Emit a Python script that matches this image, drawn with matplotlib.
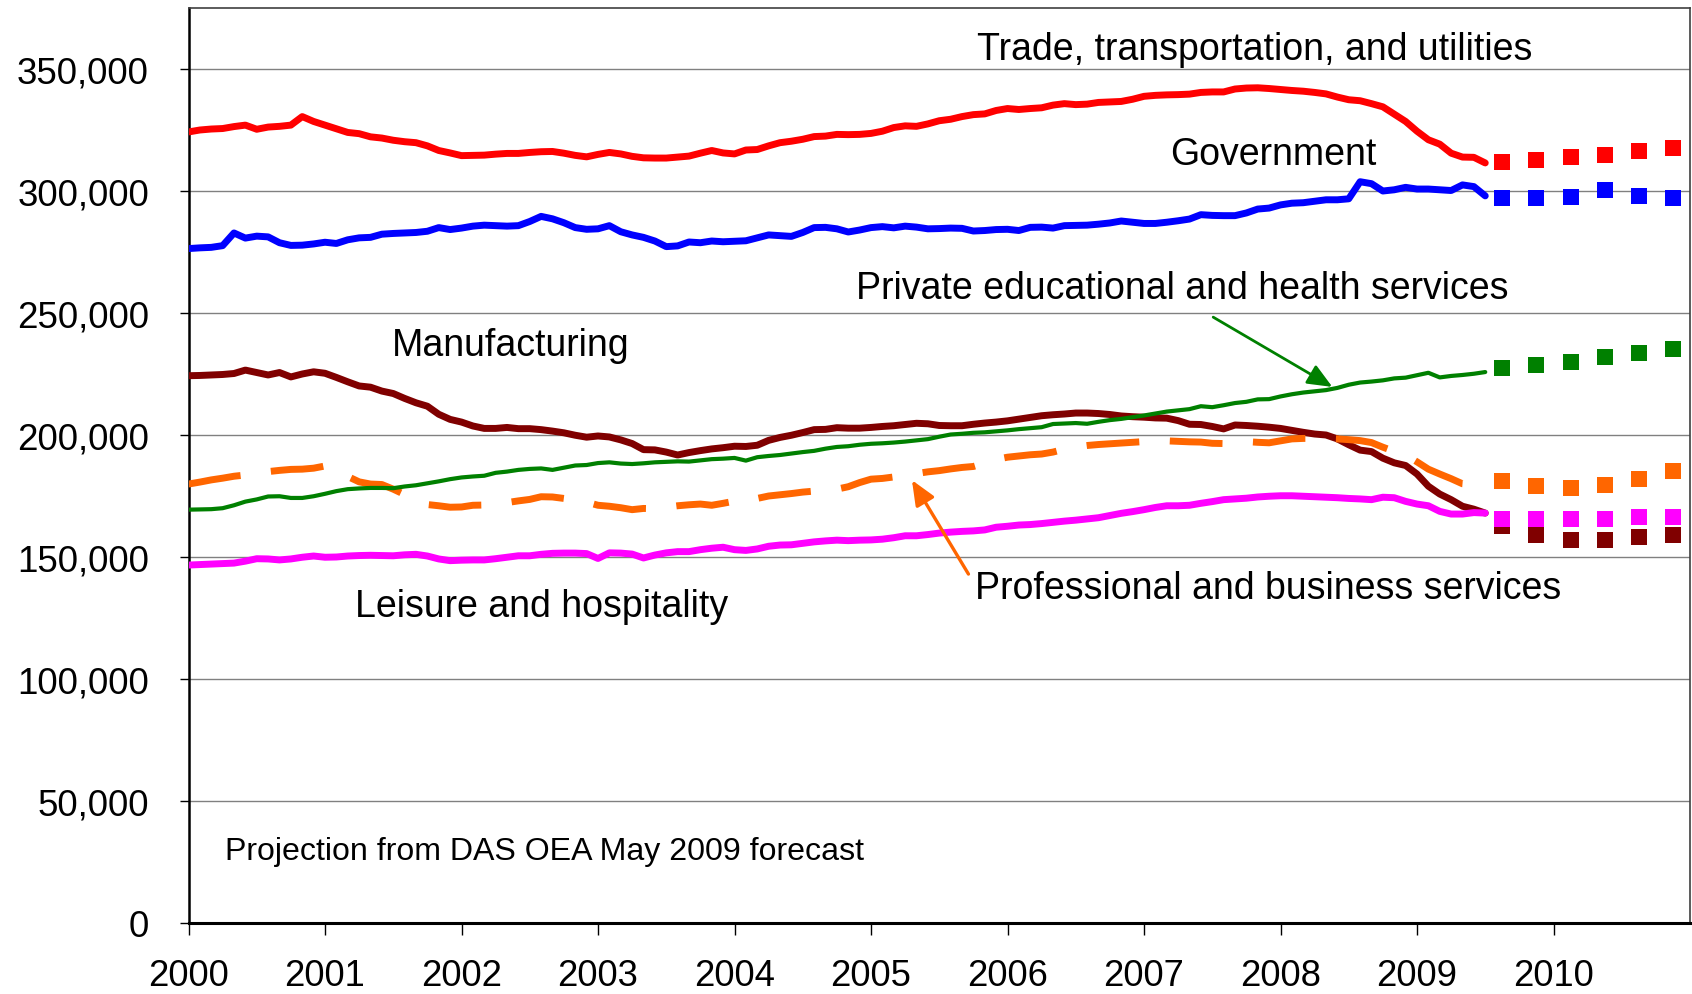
import numpy as np
import matplotlib
matplotlib.use("Agg")
import matplotlib.pyplot as plt
from matplotlib.ticker import FuncFormatter

plt.rcParams['font.family'] = ['Liberation Sans', 'DejaVu Sans']

# ---------------- data (thousands of jobs), monthly Jan 2000 - Jul 2009 ----------------
trade = [324.2, 325.0, 325.4, 325.6, 326.4, 327.0, 325.3, 326.2, 326.5, 327.0,
         330.5, 328.5, 327.0, 325.5, 324.0, 323.5, 322.2, 321.7, 320.8, 320.2,
         319.8, 318.5, 316.6, 315.6, 314.5, 314.6, 314.7, 315.1, 315.4, 315.4,
         315.8, 316.1, 316.2, 315.5, 314.6, 314.0, 315.0, 315.8, 315.2, 314.2,
         313.6, 313.5, 313.5, 313.9, 314.3, 315.5, 316.6, 315.6, 315.2, 316.8,
         317.0, 318.5, 319.8, 320.4, 321.2, 322.3, 322.5, 323.2, 323.1, 323.2,
         323.6, 324.5, 326.0, 326.7, 326.5, 327.5, 328.8, 329.4, 330.5, 331.3,
         331.6, 333.0, 333.8, 333.4, 333.8, 334.1, 335.2, 335.8, 335.4, 335.6,
         336.3, 336.5, 336.7, 337.6, 338.8, 339.2, 339.4, 339.5, 339.7, 340.4,
         340.6, 340.6, 341.8, 342.2, 342.3, 342.0, 341.6, 341.2, 340.9, 340.4,
         339.8, 338.5, 337.4, 337.0, 335.8, 334.5, 331.5, 328.5, 324.5, 321.0,
         319.2, 315.5, 313.9, 313.8, 311.5]

government = [276.4, 276.7, 276.9, 277.6, 282.8, 280.7, 281.5, 281.2, 278.8, 277.7,
              277.8, 278.3, 279.0, 278.5, 280.0, 280.8, 281.0, 282.3, 282.6, 282.8,
              283.0, 283.5, 285.0, 284.2, 284.8, 285.6, 286.0, 285.8, 285.6, 285.8,
              287.5, 289.6, 288.6, 287.0, 285.0, 284.3, 284.5, 285.8, 283.3, 282.0,
              281.0, 279.5, 277.2, 277.5, 279.1, 278.8, 279.5, 279.2, 279.4, 279.6,
              280.8, 282.0, 281.7, 281.4, 283.0, 285.0, 285.1, 284.5, 283.2, 284.0,
              285.0, 285.4, 284.9, 285.6, 285.2, 284.5, 284.6, 284.8, 284.7, 283.6,
              283.8, 284.2, 284.3, 283.8, 285.1, 285.2, 284.8, 285.8, 285.9, 286.0,
              286.4, 286.9, 287.7, 287.2, 286.7, 286.7, 287.2, 287.8, 288.5, 290.3,
              290.0, 289.9, 289.9, 291.0, 292.6, 293.0, 294.3, 295.0, 295.2, 295.8,
              296.4, 296.4, 296.8, 303.8, 303.0, 300.0, 300.5, 301.5, 300.8, 300.8,
              300.5, 300.2, 302.5, 301.8, 298.0]

manufacturing = [224.3, 224.4, 224.6, 224.8, 225.2, 226.6, 225.6, 224.6, 225.6, 223.8,
                 225.0, 225.9, 225.3, 223.6, 221.8, 220.1, 219.6, 218.0, 217.0, 215.0,
                 213.2, 211.8, 208.5, 206.4, 205.3, 203.7, 202.7, 202.7, 203.1, 202.6,
                 202.6, 202.2, 201.6, 200.9, 199.9, 199.1, 199.6, 199.2, 198.0, 196.5,
                 194.0, 193.9, 193.0, 191.8, 192.8, 193.6, 194.3, 194.8, 195.4, 195.3,
                 195.8, 197.8, 199.0, 199.9, 201.0, 202.2, 202.3, 203.0, 202.8, 202.8,
                 203.1, 203.5, 203.8, 204.3, 204.8, 204.6, 203.9, 203.8, 203.8, 204.4,
                 204.9, 205.3, 205.8, 206.5, 207.2, 207.9, 208.3, 208.6, 209.0, 209.0,
                 208.8, 208.4, 207.8, 207.5, 207.3, 207.0, 206.9, 205.9, 204.4, 204.3,
                 203.5, 202.5, 204.1, 203.9, 203.6, 203.2, 202.7, 201.9, 201.1, 200.4,
                 200.0, 198.4, 196.0, 193.8, 193.2, 190.5, 188.6, 187.5, 184.0, 179.0,
                 175.8, 173.5, 170.8, 169.6, 168.0]

education_health = [169.4, 169.5, 169.6, 170.0, 171.2, 172.7, 173.6, 174.8, 174.9, 174.2,
                    174.2, 174.9, 175.9, 177.0, 177.8, 178.1, 178.3, 178.3, 178.2, 178.9,
                    179.4, 180.2, 181.0, 181.9, 182.6, 183.0, 183.3, 184.5, 185.0, 185.7,
                    186.1, 186.3, 185.7, 186.6, 187.5, 187.7, 188.5, 188.8, 188.3, 188.1,
                    188.4, 188.8, 189.0, 189.2, 189.1, 189.6, 190.1, 190.3, 190.6, 189.5,
                    190.9, 191.4, 191.8, 192.4, 193.0, 193.5, 194.4, 195.1, 195.4, 196.0,
                    196.4, 196.6, 196.9, 197.3, 197.8, 198.3, 199.3, 200.2, 200.5, 200.9,
                    201.1, 201.5, 201.9, 202.4, 202.8, 203.2, 204.5, 204.7, 204.9, 204.6,
                    205.4, 206.1, 206.6, 207.3, 208.0, 208.8, 209.6, 210.1, 210.6, 211.8,
                    211.4, 212.2, 213.1, 213.6, 214.6, 214.7, 215.8, 216.7, 217.4, 217.9,
                    218.4, 219.3, 220.6, 221.5, 221.9, 222.4, 223.2, 223.5, 224.5, 225.5,
                    223.6, 224.2, 224.6, 225.1, 225.8]

professional = [179.9, 180.7, 181.6, 182.3, 183.1, 183.6, 184.3, 185.0, 185.5, 185.9,
                186.0, 186.4, 187.3, 186.0, 183.0, 180.8, 179.9, 179.7, 177.8, 175.6,
                173.0, 171.5, 171.0, 170.4, 170.5, 171.2, 171.3, 171.5, 172.3, 173.0,
                173.6, 174.7, 174.6, 174.0, 173.7, 172.5, 171.2, 170.8, 170.2, 169.4,
                169.9, 169.8, 170.4, 171.0, 171.4, 171.7, 171.2, 172.0, 172.9, 172.5,
                174.0, 175.0, 175.5, 176.0, 176.6, 177.0, 177.2, 177.8, 178.8, 180.5,
                181.9, 182.2, 182.8, 183.5, 184.2, 184.9, 185.4, 186.1, 186.7, 187.1,
                188.5, 190.0, 190.9, 191.4, 191.9, 192.2, 193.0, 194.2, 195.1, 195.7,
                196.1, 196.4, 196.7, 197.0, 197.3, 197.6, 197.6, 197.4, 197.2, 197.1,
                196.6, 196.5, 197.0, 197.3, 197.0, 196.8, 197.6, 198.4, 198.6, 198.6,
                198.6, 198.4, 198.1, 197.7, 196.9, 195.0, 193.3, 191.8, 189.0, 186.0,
                184.0, 182.1, 180.0, 179.6, 179.2]

leisure = [146.7, 146.9, 147.1, 147.3, 147.5, 148.3, 149.3, 149.2, 148.8, 149.2,
           149.9, 150.4, 149.9, 150.0, 150.4, 150.6, 150.7, 150.6, 150.5, 150.9,
           151.1, 150.4, 149.2, 148.5, 148.7, 148.8, 148.8, 149.3, 149.9, 150.5,
           150.5, 151.1, 151.5, 151.6, 151.6, 151.4, 149.4, 151.7, 151.6, 151.2,
           149.6, 150.8, 151.7, 152.2, 152.2, 153.0, 153.6, 154.0, 153.0, 152.7,
           153.3, 154.4, 154.9, 155.0, 155.6, 156.2, 156.6, 156.9, 156.7, 156.9,
           157.0, 157.3, 157.9, 158.7, 158.7, 159.2, 159.8, 160.2, 160.5, 160.7,
           161.1, 162.2, 162.6, 163.1, 163.3, 163.7, 164.2, 164.7, 165.1, 165.6,
           166.1, 167.0, 167.9, 168.6, 169.4, 170.3, 171.0, 171.0, 171.2, 172.0,
           172.7, 173.5, 173.8, 174.1, 174.6, 174.9, 175.1, 175.1, 174.9, 174.7,
           174.5, 174.3, 174.0, 173.8, 173.5, 174.5, 174.3, 172.8, 171.7, 171.0,
           168.7, 167.6, 167.6, 168.2, 168.0]

# quarterly projections (DAS OEA May 2009 forecast), Q3 2009 - Q4 2010
proj_quarters = [2009.625, 2009.875, 2010.125, 2010.375, 2010.625, 2010.875]
trade_proj = [311.9, 312.7, 313.8, 314.8, 316.2, 317.6]
government_proj = [297.1, 297.0, 297.5, 300.4, 298.1, 297.0]
manufacturing_proj = [162.8, 158.9, 157.1, 156.9, 158.0, 159.0]
education_health_proj = [227.3, 228.5, 229.9, 231.8, 233.7, 235.2]
professional_proj = [181.1, 179.1, 178.4, 179.6, 181.9, 185.2]
leisure_proj = [165.6, 165.6, 165.4, 165.7, 166.4, 166.4]

year_ticks = list(range(2000, 2011))
y_ticks = [0, 50000, 100000, 150000, 200000, 250000, 300000, 350000]

# ---------------- plotting ----------------
months = np.arange(len(trade))
x = 2000 + months / 12.0
pq = np.array(proj_quarters)

fig = plt.figure(figsize=(16.92, 9.95), dpi=100)
ax = fig.add_axes([188.5 / 1692, 71 / 995, (1690 - 188.5) / 1692, 915 / 995])

series = [
    (trade, trade_proj, '#FF0000', 5.0, '-'),
    (government, government_proj, '#0000FF', 5.0, '-'),
    (manufacturing, manufacturing_proj, '#800000', 5.0, '-'),
    (professional, professional_proj, '#FF6600', 5.0, (0, (7.6, 4.4))),
    (education_health, education_health_proj, '#008000', 3.0, '-'),
    (leisure, leisure_proj, '#FF00FF', 5.0, '-'),
]

for i, (vals, proj, col, lw, ls) in enumerate(series):
    v = np.array(vals) * 1000
    ax.plot(x, v, color=col, lw=lw, ls=ls, solid_capstyle='round',
            solid_joinstyle='round', dash_capstyle='butt', zorder=3 + i)
    ax.plot(pq, np.array(proj) * 1000, ls='none', marker='s', markersize=11.2,
            color=col, markeredgewidth=0, zorder=3 + i)

ax.set_xlim(2000, 2011)
ax.set_ylim(0, 375000)
ax.set_xticks(year_ticks)
ax.set_xticklabels([str(y) for y in year_ticks])
ax.set_yticks(y_ticks)
ax.yaxis.set_major_formatter(FuncFormatter(lambda v, p: '{:,.0f}'.format(v)))
ax.grid(axis='y', color='#808080', lw=1.0, zorder=1)
ax.set_axisbelow(True)

ax.tick_params(axis='x', direction='out', length=8.5, width=1.0, pad=16.5,
               labelsize=26.2, colors='black')
ax.tick_params(axis='y', direction='out', length=6.5, width=1.0, pad=22,
               labelsize=26.5, colors='black')

ax.spines['left'].set_linewidth(1.8)
ax.spines['bottom'].set_linewidth(2.2)
ax.spines['right'].set_color('#404040')
ax.spines['right'].set_linewidth(1.2)
ax.spines['top'].set_color('#404040')
ax.spines['top'].set_linewidth(1.2)

fs = 27.0
ax.text(2007.81, 354300, 'Trade, transportation, and utilities', fontsize=fs,
        ha='center', va='baseline', zorder=10)
ax.text(2007.95, 311000, 'Government', fontsize=fs, ha='center', va='baseline', zorder=10)
ax.text(2007.28, 256100, 'Private educational and health services', fontsize=fs,
        ha='center', va='baseline', zorder=10)
ax.text(2002.36, 232800, 'Manufacturing', fontsize=fs, ha='center', va='baseline', zorder=10)
ax.text(2007.91, 133200, 'Professional and business services', fontsize=fs,
        ha='center', va='baseline', zorder=10)
ax.text(2002.59, 125800, 'Leisure and hospitality', fontsize=fs, ha='center',
        va='baseline', zorder=10)
ax.text(2002.61, 26400, 'Projection from DAS OEA May 2009 forecast', fontsize=23.1,
        ha='center', va='baseline', zorder=10)

ax.annotate('', xy=(2008.38, 219700), xytext=(2007.507, 248300),
            arrowprops=dict(arrowstyle='-|>,head_length=0.75,head_width=0.32',
                            color='#008000', lw=2.0, mutation_scale=20,
                            shrinkA=0, shrinkB=0), zorder=12)
ax.annotate('', xy=(2005.30, 181500), xytext=(2005.714, 143000),
            arrowprops=dict(arrowstyle='-|>,head_length=0.75,head_width=0.32',
                            color='#FF6600', lw=2.4, mutation_scale=20,
                            shrinkA=0, shrinkB=0), zorder=12)

fig.savefig('out.png', dpi=100)
